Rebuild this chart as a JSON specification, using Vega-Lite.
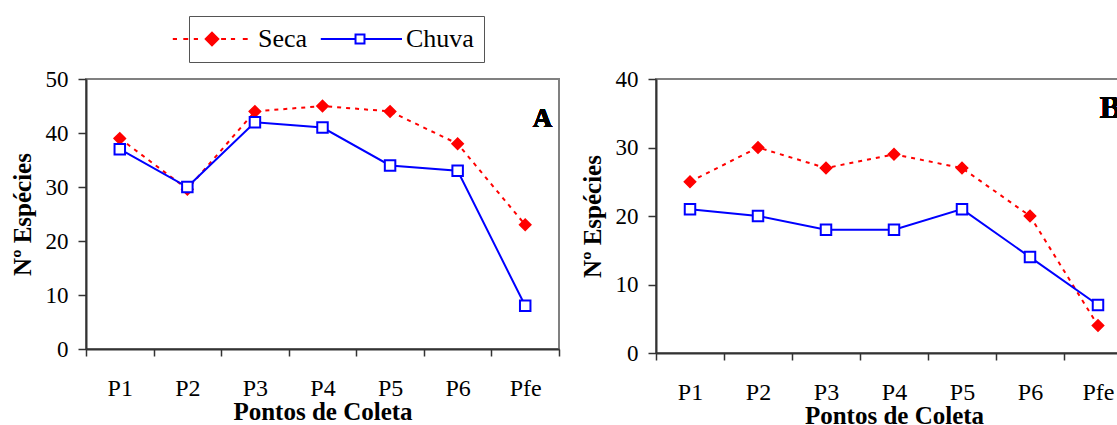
{
  "$schema": "https://vega.github.io/schema/vega-lite/v6.json",
  "padding": {"left": 9, "top": 15, "right": 0, "bottom": 0},
  "background": "#ffffff",
  "spacing": 18,
  "datasets": {
    "A": [
      {"ponto": "P1", "periodo": "Seca", "n": 39},
      {"ponto": "P2", "periodo": "Seca", "n": 29.6},
      {"ponto": "P3", "periodo": "Seca", "n": 44},
      {"ponto": "P4", "periodo": "Seca", "n": 45},
      {"ponto": "P5", "periodo": "Seca", "n": 44},
      {"ponto": "P6", "periodo": "Seca", "n": 38},
      {"ponto": "Pfe", "periodo": "Seca", "n": 23},
      {"ponto": "P1", "periodo": "Chuva", "n": 37},
      {"ponto": "P2", "periodo": "Chuva", "n": 30},
      {"ponto": "P3", "periodo": "Chuva", "n": 42},
      {"ponto": "P4", "periodo": "Chuva", "n": 41},
      {"ponto": "P5", "periodo": "Chuva", "n": 34},
      {"ponto": "P6", "periodo": "Chuva", "n": 33},
      {"ponto": "Pfe", "periodo": "Chuva", "n": 8}
    ],
    "B": [
      {"ponto": "P1", "periodo": "Seca", "n": 25},
      {"ponto": "P2", "periodo": "Seca", "n": 30},
      {"ponto": "P3", "periodo": "Seca", "n": 27},
      {"ponto": "P4", "periodo": "Seca", "n": 29},
      {"ponto": "P5", "periodo": "Seca", "n": 27},
      {"ponto": "P6", "periodo": "Seca", "n": 20},
      {"ponto": "Pfe", "periodo": "Seca", "n": 4},
      {"ponto": "P1", "periodo": "Chuva", "n": 21},
      {"ponto": "P2", "periodo": "Chuva", "n": 20},
      {"ponto": "P3", "periodo": "Chuva", "n": 18},
      {"ponto": "P4", "periodo": "Chuva", "n": 18},
      {"ponto": "P5", "periodo": "Chuva", "n": 21},
      {"ponto": "P6", "periodo": "Chuva", "n": 14},
      {"ponto": "Pfe", "periodo": "Chuva", "n": 7}
    ]
  },
  "hconcat": [
    {
      "width": 473,
      "height": 270,
      "data": {"name": "A"},
      "encoding": {
        "x": {"field": "ponto", "type": "nominal", "sort": null, "bandPosition": 0.5,
              "scale": {"type": "band", "paddingInner": 0, "paddingOuter": 0},
              "axis": {"title": "Pontos de Coleta", "labelAngle": 0, "tickBand": "extent", "tickSize": 7, "labelPadding": 20, "titlePadding": -1}},
        "y": {"field": "n", "type": "quantitative", "scale": {"domain": [0, 50], "nice": false},
              "axis": {"title": "Nº Espécies", "values": [0, 10, 20, 30, 40, 50], "tickSize": 8, "labelPadding": 10, "titlePadding": 10}}
      },
      "layer": [
        {
          "transform": [{"filter": "datum.periodo === 'Seca'"}],
          "mark": {"type": "line", "strokeWidth": 2, "color": "#ff0000", "strokeDash": [4, 5]},
          "encoding": {}
        },
        {
          "transform": [{"filter": "datum.periodo === 'Seca'"}],
          "mark": {"type": "point", "shape": "diamond", "filled": true, "fill": "#ff0000", "stroke": "#ff0000", "strokeWidth": 1.5, "size": 130, "opacity": 1},
          "encoding": {}
        },
        {
          "transform": [{"filter": "datum.periodo === 'Chuva'"}],
          "mark": {"type": "line", "strokeWidth": 2, "color": "#0000ff"},
          "encoding": {}
        },
        {
          "transform": [{"filter": "datum.periodo === 'Chuva'"}],
          "mark": {"type": "point", "shape": "square", "filled": true, "fill": "#ffffff", "stroke": "#0000ff", "strokeWidth": 2, "size": 110, "opacity": 1},
          "encoding": {}
        },
        {
          "mark": {"type": "point", "filled": true, "opacity": 0},
          "encoding": {
            "shape": {"field": "periodo", "type": "nominal",
                      "scale": {"domain": ["Seca", "Chuva"], "range": [
                        "M-5.6,0H-5M-4.1,0H-3.4M-2.6,0H-2M0,-0.9L0.9,0L0,0.9L-0.9,0ZM1.3,0H2M2.7,0H3.3M4.4,0H5.1",
                        "M-5.6,0H-0.64M0.64,0H6M-0.64,-0.64H0.64V0.64H-0.64Z"]},
                      "legend": {
                        "orient": "none", "legendX": 103, "legendY": -63, "direction": "horizontal", "title": null,
                        "labelFont": "Liberation Serif", "labelFontSize": 26, "labelColor": "#000000",
                        "strokeColor": "#555555", "fillColor": "#ffffff", "padding": 10, "columnPadding": 8,
                        "symbolSize": 196, "symbolOffset": 0, "labelOffset": 33, "symbolStrokeWidth": 2, "symbolOpacity": 1
                      }},
            "fill": {"field": "periodo", "type": "nominal",
                     "scale": {"domain": ["Seca", "Chuva"], "range": ["#ff0000", "#ffffff"]},
                     "legend": {
                        "orient": "none", "legendX": 103, "legendY": -63, "direction": "horizontal", "title": null,
                        "labelFont": "Liberation Serif", "labelFontSize": 26, "labelColor": "#000000",
                        "strokeColor": "#555555", "fillColor": "#ffffff", "padding": 10, "columnPadding": 8,
                        "symbolSize": 196, "symbolOffset": 0, "labelOffset": 33, "symbolStrokeWidth": 2, "symbolOpacity": 1
                      }},
            "stroke": {"field": "periodo", "type": "nominal",
                       "scale": {"domain": ["Seca", "Chuva"], "range": ["#ff0000", "#0000ff"]},
                       "legend": {
                        "orient": "none", "legendX": 103, "legendY": -63, "direction": "horizontal", "title": null,
                        "labelFont": "Liberation Serif", "labelFontSize": 26, "labelColor": "#000000",
                        "strokeColor": "#555555", "fillColor": "#ffffff", "padding": 10, "columnPadding": 8,
                        "symbolSize": 196, "symbolOffset": 0, "labelOffset": 33, "symbolStrokeWidth": 2, "symbolOpacity": 1
                      }}
          }
        },
        {
          "mark": {"type": "text", "text": "A", "font": "Liberation Serif", "fontWeight": "bold", "fontSize": 27, "align": "right", "baseline": "alphabetic", "dx": 27, "color": "#000000"},
          "encoding": {
            "x": {"datum": "Pfe", "type": "nominal", "bandPosition": 0.5},
            "y": {"datum": 41.1, "type": "quantitative"}
          }
        }
      ]
    },
    {
      "width": 476,
      "height": 274,
      "data": {"name": "B"},
      "encoding": {
        "x": {"field": "ponto", "type": "nominal", "sort": null, "bandPosition": 0.5,
              "scale": {"type": "band", "paddingInner": 0, "paddingOuter": 0},
              "axis": {"title": "Pontos de Coleta", "labelAngle": 0, "tickBand": "extent", "tickSize": 7, "labelPadding": 20, "titlePadding": -1}},
        "y": {"field": "n", "type": "quantitative", "scale": {"domain": [0, 40], "nice": false},
              "axis": {"title": "Nº Espécies", "values": [0, 10, 20, 30, 40], "tickSize": 8, "labelPadding": 10, "titlePadding": 10}}
      },
      "layer": [
        {
          "transform": [{"filter": "datum.periodo === 'Seca'"}],
          "mark": {"type": "line", "strokeWidth": 2, "color": "#ff0000", "strokeDash": [4, 5]},
          "encoding": {}
        },
        {
          "transform": [{"filter": "datum.periodo === 'Seca'"}],
          "mark": {"type": "point", "shape": "diamond", "filled": true, "fill": "#ff0000", "stroke": "#ff0000", "strokeWidth": 1.5, "size": 130, "opacity": 1},
          "encoding": {}
        },
        {
          "transform": [{"filter": "datum.periodo === 'Chuva'"}],
          "mark": {"type": "line", "strokeWidth": 2, "color": "#0000ff"},
          "encoding": {}
        },
        {
          "transform": [{"filter": "datum.periodo === 'Chuva'"}],
          "mark": {"type": "point", "shape": "square", "filled": true, "fill": "#ffffff", "stroke": "#0000ff", "strokeWidth": 2, "size": 110, "opacity": 1},
          "encoding": {}
        },
        {
          "mark": {"type": "text", "text": "B", "font": "Liberation Serif", "fontWeight": "bold", "fontSize": 32, "align": "right", "baseline": "alphabetic", "dx": 23, "color": "#000000"},
          "encoding": {
            "x": {"datum": "Pfe", "type": "nominal", "bandPosition": 0.5},
            "y": {"datum": 34.3, "type": "quantitative"}
          }
        }
      ]
    }
  ],
  "config": {
    "font": "Liberation Serif",
    "view": {"stroke": "#808080", "strokeWidth": 2},
    "legend": {"labelFont": "Liberation Serif"},
    "axis": {
      "grid": false,
      "domainColor": "#333333", "domainWidth": 2,
      "tickColor": "#333333", "tickWidth": 1.5,
      "labelFont": "Liberation Serif", "labelFontSize": 23, "labelColor": "#000000",
      "titleFont": "Liberation Serif", "titleFontSize": 25, "titleFontWeight": "bold", "titleColor": "#000000"
    },
    "axisX": {"labelFontSize": 24}
  }
}
